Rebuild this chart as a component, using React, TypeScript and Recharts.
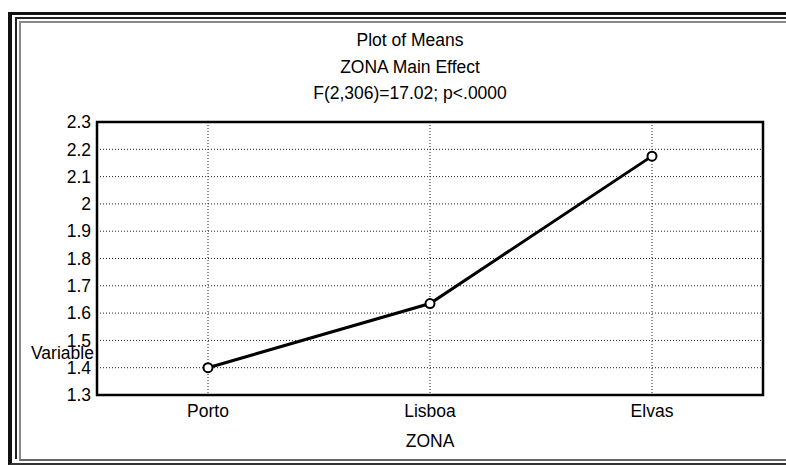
import React from 'react'
import { LineChart, Line, XAxis, YAxis, CartesianGrid, usePlotArea } from 'recharts'

// category labels and mean values
const zonas = ['Porto', 'Lisboa', 'Elvas']
const means = [1.4, 1.635, 2.175]
const yTicks = [1.3, 1.4, 1.5, 1.6, 1.7, 1.8, 1.9, 2, 2.1, 2.2, 2.3]

const titleLines = ['Plot of Means', 'ZONA Main Effect', 'F(2,306)=17.02; p<.0000']

const FONT = '"Liberation Sans", Arial, sans-serif'
const FS = 17.5

// box round the plot area
function PlotFrame() {
  const area = usePlotArea()
  if (!area) return null
  return <rect x={area.x} y={area.y} width={area.width} height={area.height} fill="none" stroke="#000" strokeWidth={2.5} />
}

export default function App() {
  const data = zonas.map((z, i) => ({ zona: z, mean: means[i] }))
  const pad = { left: 111, right: 111 }

  return (
    <div style={{ position: 'absolute', left: 0, top: 0, width: 786, height: 465, background: '#fff', overflow: 'hidden', fontFamily: FONT }}>
      {/* scanned double frame */}
      <div style={{ position: 'absolute', left: 8, top: 12, width: 800, height: 448, borderLeft: '4px solid #111', borderTop: '3px solid #111', borderBottom: '2px solid #333' }} />
      <div style={{ position: 'absolute', left: 15, top: 17, width: 800, height: 440, borderLeft: '2px solid #222', borderTop: '2px solid #222' }} />
      <div style={{ position: 'absolute', left: 19, top: 21, width: 800, height: 436, borderLeft: '2px solid #888', borderTop: '2px solid #888', borderBottom: '2px solid #666' }} />

      {titleLines.map((t, i) => (
        <div key={t} style={{ position: 'absolute', left: 210, width: 400, top: 30 + i * 26.5, textAlign: 'center', fontSize: FS, color: '#000' }}>
          {t}
        </div>
      ))}

      <div style={{ position: 'absolute', left: 31, top: 343, fontSize: FS, color: '#000' }}>Variable</div>

      <div style={{ position: 'absolute', left: 0, top: 0 }}>
        <LineChart width={786} height={465} data={data} margin={{ top: 122, right: 23, bottom: 40, left: 0 }}>
          <CartesianGrid stroke="#222" strokeDasharray="1 2" />
          <XAxis
            dataKey="zona"
            height={30}
            padding={pad}
            axisLine={false}
            tickLine={false}
            tick={{ fill: '#000', fontSize: FS, fontFamily: FONT }}
            tickMargin={4}
            label={{ value: 'ZONA', position: 'insideBottom', offset: -22, fill: '#000', fontSize: FS, fontFamily: FONT }}
          />
          <YAxis
            width={97}
            domain={[1.3, 2.3]}
            ticks={yTicks}
            interval={0}
            axisLine={false}
            tickLine={false}
            tickSize={0}
            tickMargin={6}
            tick={{ fill: '#000', fontSize: FS, fontFamily: FONT }}
          />
          <PlotFrame />
          <Line
            dataKey="mean"
            stroke="#000"
            strokeWidth={3}
            dot={{ r: 4.5, fill: '#fff', stroke: '#000', strokeWidth: 2 }}
            isAnimationActive={false}
          />
        </LineChart>
      </div>
    </div>
  )
}
